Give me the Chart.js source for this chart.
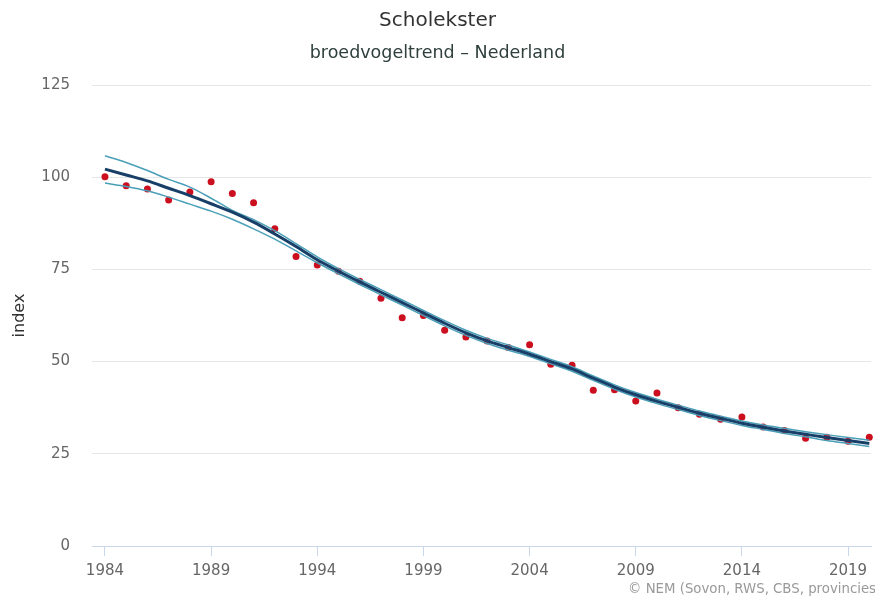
<!DOCTYPE html>
<html>
<head>
<meta charset="utf-8">
<script src="https://cdn.jsdelivr.net/npm/chart.js@4.4.0/dist/chart.umd.min.js"></script>
<style>
  html, body { margin: 0; padding: 0; background: #fff; }
  #wrap { width: 875px; height: 599px; }
</style>
</head>
<body>
<div id="wrap"><canvas id="grafico"></canvas></div>
<script>
// jaren en waarden (index)
const jaren = [1984,1985,1986,1987,1988,1989,1990,1991,1992,1993,1994,1995,1996,1997,1998,1999,2000,2001,2002,2003,2004,2005,2006,2007,2008,2009,2010,2011,2012,2013,2014,2015,2016,2017,2018,2019,2020];

const indexWaarden = [100.1,97.7,96.8,93.8,96.0,98.8,95.6,93.1,86.0,78.5,76.2,74.5,71.8,67.2,61.9,62.5,58.5,56.7,55.6,53.8,54.6,49.3,49.0,42.2,42.4,39.3,41.5,37.5,35.7,34.4,35.0,32.3,31.3,29.2,29.5,28.4,29.5];

const trend = [102.2,100.6,99.0,97.0,95.0,92.8,90.5,87.8,84.6,81.2,77.6,74.5,71.6,68.8,66.0,63.2,60.4,57.8,55.6,53.8,52.0,50.0,48.0,45.5,43.1,41.0,39.2,37.6,36.0,34.6,33.3,32.2,31.2,30.3,29.4,28.6,27.8];

const bovengrens = [105.8,104.0,101.8,99.4,97.3,94.3,91.0,88.5,85.5,82.0,78.4,75.2,72.3,69.5,66.7,63.9,61.1,58.5,56.3,54.5,52.6,50.6,48.6,46.1,43.7,41.6,39.8,38.2,36.6,35.2,33.9,32.8,31.9,31.0,30.2,29.4,28.7];

const ondergrens = [98.4,97.5,96.3,94.6,92.7,90.8,88.6,86.0,83.2,80.0,76.8,73.8,70.9,68.1,65.3,62.5,59.7,57.1,54.9,53.1,51.4,49.4,47.4,44.9,42.5,40.4,38.6,37.0,35.4,34.0,32.7,31.6,30.5,29.6,28.6,27.8,27.0];

const xTicks = [1984,1989,1994,1999,2004,2009,2014,2019];
const yTicks = [0,25,50,75,100,125];

function punten(waarden) {
  return jaren.map((j, i) => ({ x: j, y: waarden[i] }));
}

const fonte = "'DejaVu Sans', sans-serif";

// bronvermelding rechtsonder
const credits = {
  id: 'credits',
  afterDraw(chart) {
    const ctx = chart.ctx;
    ctx.save();
    ctx.font = "13.3px " + fonte;
    ctx.fillStyle = '#999';
    ctx.textAlign = 'right';
    ctx.textBaseline = 'middle';
    ctx.fillText('\u00a9 NEM (Sovon, RWS, CBS, provincies', 876, 590);
    ctx.restore();
  }
};

const grafico = document.getElementById('grafico');

new Chart(grafico, {
  type: 'scatter',
  data: {
    datasets: [
      {
        label: 'trend',
        data: punten(trend),
        showLine: true,
        borderColor: '#173f68',
        borderWidth: 3,
        pointRadius: 0,
        cubicInterpolationMode: 'monotone'
      },
      {
        label: 'bovengrens',
        data: punten(bovengrens),
        showLine: true,
        borderColor: '#4a9fb8',
        borderWidth: 1.5,
        pointRadius: 0,
        cubicInterpolationMode: 'monotone'
      },
      {
        label: 'ondergrens',
        data: punten(ondergrens),
        showLine: true,
        borderColor: '#4a9fb8',
        borderWidth: 1.5,
        pointRadius: 0,
        cubicInterpolationMode: 'monotone'
      },
      {
        label: 'index',
        data: punten(indexWaarden),
        showLine: false,
        backgroundColor: '#cc0f1e',
        borderColor: '#cc0f1e',
        borderWidth: 0,
        pointRadius: 3.5,
        clip: false
      }
    ]
  },
  options: {
    responsive: true,
    maintainAspectRatio: false,
    animation: false,
    layout: { padding: { left: 0, right: 0, top: 0, bottom: 0 } },
    plugins: {
      legend: { display: false },
      tooltip: { enabled: false },
      title: {
        display: true,
        text: 'Scholekster',
        color: '#333',
        font: { family: fonte, size: 20, weight: 'normal' },
        padding: { top: 9, bottom: 7 }
      },
      subtitle: {
        display: true,
        text: 'broedvogeltrend \u2013 Nederland',
        color: '#2e3f3c',
        font: { family: fonte, size: 17.5, weight: 'normal' },
        padding: { top: 3, bottom: 21 }
      }
    },
    scales: {
      x: {
        type: 'linear',
        min: 1983.39,
        max: 2020.08,
        afterBuildTicks(scale) {
          scale.ticks = xTicks.map(v => ({ value: v }));
        },
        afterFit(scale) {
          scale.height = 53;
        },
        grid: {
          drawOnChartArea: false,
          drawTicks: true,
          tickLength: 10,
          color: '#ccd6eb'
        },
        border: { display: true, color: '#ccd6eb', width: 1 },
        ticks: {
          color: '#666',
          padding: 6,
          maxRotation: 0,
          autoSkip: false,
          font: { family: fonte, size: 15 },
          callback: v => String(v)
        }
      },
      y: {
        min: 0,
        max: 125,
        afterBuildTicks(scale) {
          scale.ticks = yTicks.map(v => ({ value: v }));
        },
        afterFit(scale) {
          scale.width = 92;
        },
        grid: {
          color: '#e6e6e6',
          drawTicks: false
        },
        border: { display: false },
        ticks: {
          color: '#666',
          padding: 22,
          font: { family: fonte, size: 15 }
        },
        title: {
          display: true,
          text: 'index',
          color: '#333',
          font: { family: fonte, size: 16 },
          padding: { top: 10, bottom: 0 }
        }
      }
    }
  },
  plugins: [credits]
});
</script>
</body>
</html>
